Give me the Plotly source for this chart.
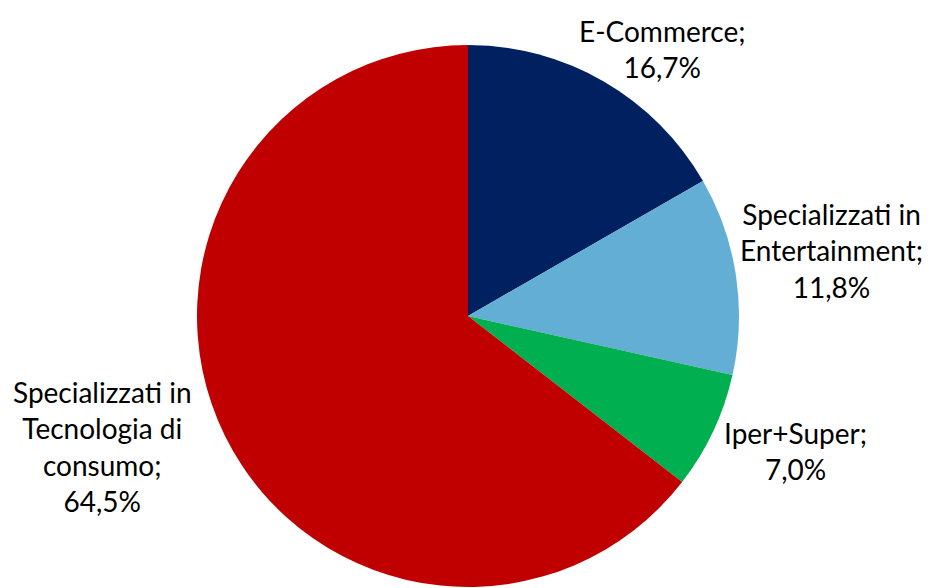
import plotly.graph_objects as go

categories = ["E-Commerce", "Specializzati in Entertainment", "Iper+Super",
              "Specializzati in Tecnologia di consumo"]
values = [16.7, 11.8, 7.0, 64.5]
colors = ["#002060", "#62AED5", "#00B050", "#C00000"]
label_texts = ["E-Commerce;<br>16,7%",
               "Specializzati in<br>Entertainment;<br>11,8%",
               "Iper+Super;<br>7,0%",
               "Specializzati in<br>Tecnologia di<br>consumo;<br>64,5%"]
# label centres in page pixels
label_pos = [(662, 49), (831, 250), (795, 451), (102, 446)]

OFF = 8  # default page body margin
W, H = 932 - OFF, 588 - OFF
cx, cy, r = 468 - OFF, 316 - OFF, 271

fig = go.Figure(go.Pie(
    labels=categories, values=values, sort=False, direction="clockwise",
    rotation=0, marker=dict(colors=colors, line=dict(width=0)),
    textinfo="none", hoverinfo="label+percent", showlegend=False,
    domain=dict(x=[(cx - r) / W, (cx + r) / W], y=[1 - (cy + r) / H, 1 - (cy - r) / H]),
))

for t, (x, y) in zip(label_texts, label_pos):
    fig.add_annotation(x=(x - OFF) / W, y=1 - (y - OFF) / H, xref="paper", yref="paper",
                       text=t, showarrow=False, xanchor="center", yanchor="middle",
                       font=dict(family="Lato", size=28, color="#000000"))

fig.update_layout(width=W, height=H, margin=dict(l=0, r=0, t=0, b=0),
                  paper_bgcolor="white", plot_bgcolor="white")
fig.write_html("out.html")
